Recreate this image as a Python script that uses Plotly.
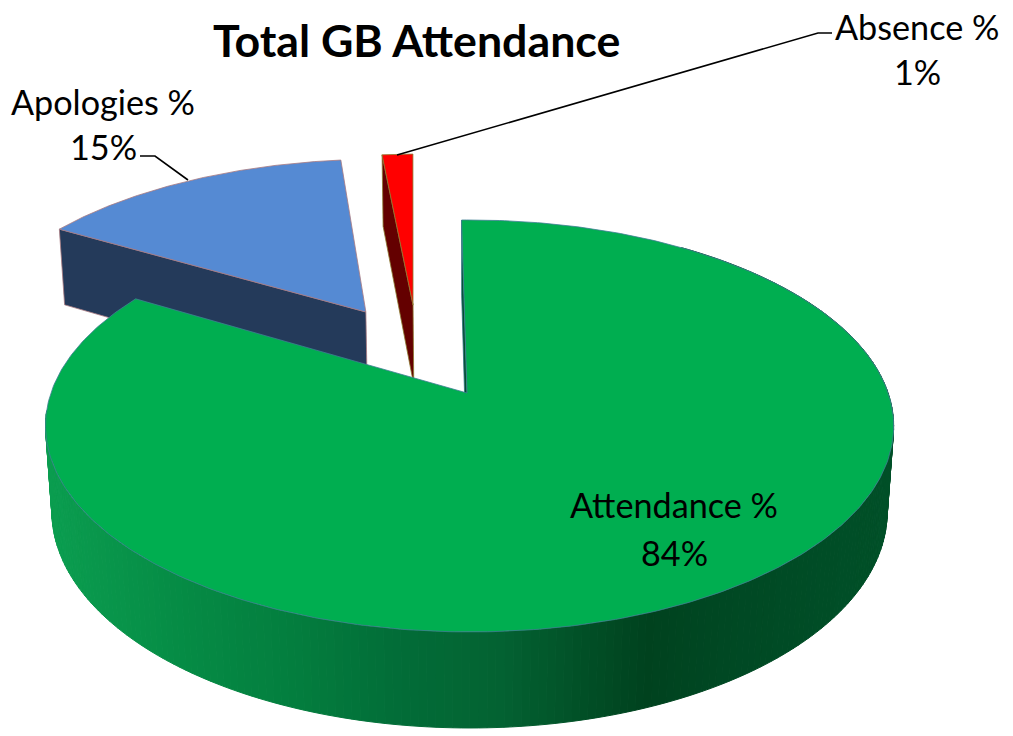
import numpy as np
import plotly.graph_objects as go

# --- data ---
categories = ["Attendance %", "Apologies %", "Absence %"]
values = [83.8, 14.75, 1.45]
title_text = "Total GB Attendance"

# --- styles ---
top_colors = ["#00AE50", "#558AD3", "#FF0000"]
side_colors = ["#024A2A", "#243A5A", "#640000"]
edge_colors = ["#3F7F93", "#A87A80", "#8C7A30"]
explode_mag = [0.0, 0.503, 0.491]
explode_dir = [0.0, -30.9, -16.4]
START_DEG = -1.2
GREEN_RIM_SHIFT = 0.006
wall_x = [48, 195, 300, 390, 500, 643, 720, 885]
wall_rgb = [(11, 158, 80), (5, 138, 68), (3, 125, 62), (2, 110, 56),
            (3, 98, 50), (0, 66, 30), (0, 72, 35), (0, 80, 40)]

# --- projection of the pie plane onto the canvas ---
XC, YC, A, B, K, M, D = 467.0, 393.0, 418.6, 200.7, 0.16, 0.015, 85.7


def project(u, v, z=0.0):
    w = 1 + K * np.asarray(v) + M * z
    return XC + A * np.asarray(u) / w, YC - B * np.asarray(v) / w + D * z / w


def wedge_uv(a0, a1, off, n=120):
    t = np.radians(np.linspace(a0, a1, n))
    return off[0] + np.sin(t), off[1] + np.cos(t)


def poly(fig, x, y, fill, line=None, lw=1.0):
    fig.add_trace(go.Scatter(
        x=list(x) + [x[0]], y=list(y) + [y[0]], mode="lines", fill="toself",
        fillcolor=fill, line=dict(color=line or fill, width=lw),
        hoverinfo="skip", showlegend=False))


total = sum(values)
edges = START_DEG + np.cumsum([0] + [v / total * 360 for v in values])
offsets = [(m * np.sin(np.radians(d)), m * np.cos(np.radians(d)))
           for m, d in zip(explode_mag, explode_dir)]

fig = go.Figure()

# Apologies, then Absence, then Attendance (back to front)
for i in (1, 2):
    a0, a1 = edges[i], edges[i + 1]
    off = offsets[i]
    rim = (off[0] + np.sin(np.radians(a0)), off[1] + np.cos(np.radians(a0)))
    xs, ys = zip(*[project(*p, z) for p, z in
                   [(off, 0), (rim, 0), (rim, 1), (off, 1)]])
    poly(fig, xs, ys, side_colors[i], edge_colors[i], 0.8)
    u, v = wedge_uv(a0, a1, off)
    x, y = project(np.r_[off[0], u], np.r_[off[1], v])
    poly(fig, x, y, top_colors[i], edge_colors[i], 0.8)

# Attendance: inner face at the start of the sweep
a0, a1 = edges[0], edges[1]
off = offsets[0]
rim_off = (off[0] + GREEN_RIM_SHIFT, off[1])
rim = (rim_off[0] + np.sin(np.radians(a0)), rim_off[1] + np.cos(np.radians(a0)))
xs, ys = zip(*[project(*p, z) for p, z in
               [(off, 0), (rim, 0), (rim, 1), (off, 1)]])
poly(fig, xs, ys, "#044E30", "#2F6F80", 0.8)

# Attendance: outer wall, shaded by horizontal position
steps = np.linspace(35, 265, 231)
for s0, s1 in zip(steps[:-1], steps[1:]):
    t = np.radians([s0, s1])
    u, v = rim_off[0] + np.sin(t), rim_off[1] + np.cos(t)
    xt, yt = project(u, v, 0)
    xb, yb = project(u, v, 1)
    xm = float(np.mean(xb))
    rgb = [int(round(np.interp(xm, wall_x, [c[j] for c in wall_rgb]))) for j in range(3)]
    col = f"rgb({rgb[0]},{rgb[1]},{rgb[2]})"
    poly(fig, [xt[0], xt[1], xb[1], xb[0]], [yt[0], yt[1], yb[1], yb[0]], col, col, 1.0)

# Attendance: top face
u, v = wedge_uv(a0, a1, rim_off, 400)
x, y = project(np.r_[off[0], u], np.r_[off[1], v])
poly(fig, x, y, top_colors[0], edge_colors[0], 0.8)

# Leader lines
for lx, ly in [([188, 155, 140], [180, 156, 156]), ([397, 818, 832], [155, 33, 33])]:
    fig.add_trace(go.Scatter(x=lx, y=ly, mode="lines", line=dict(color="black", width=1.6),
                             hoverinfo="skip", showlegend=False))

# Text
FONT = "Lato, Carlito, Calibri, sans-serif"
label_pos = [(674, 504, 552), (103, 101, 146), (917, 26, 71)]
anns = [dict(x=416, y=40, text=f"<b>{title_text}</b>", showarrow=False,
             font=dict(family=FONT, size=44.7, color="black"))]
for name, val, (cx, y1, y2) in zip(categories, values, label_pos):
    anns.append(dict(x=cx, y=y1, text=name, showarrow=False,
                     font=dict(family=FONT, size=34.2, color="black")))
    anns.append(dict(x=cx, y=y2, text=f"{round(val)}%", showarrow=False,
                     font=dict(family=FONT, size=34.2, color="black")))

fig.update_layout(
    width=1013, height=736, margin=dict(l=0, r=0, t=0, b=0),
    paper_bgcolor="white", plot_bgcolor="white", showlegend=False,
    xaxis=dict(range=[0, 1013], visible=False, fixedrange=True),
    yaxis=dict(range=[736, 0], visible=False, fixedrange=True),
    annotations=anns)

fig.write_html("out.html", config={"displayModeBar": False},
               post_script="document.body.style.margin='0';document.body.style.overflow='hidden';")
